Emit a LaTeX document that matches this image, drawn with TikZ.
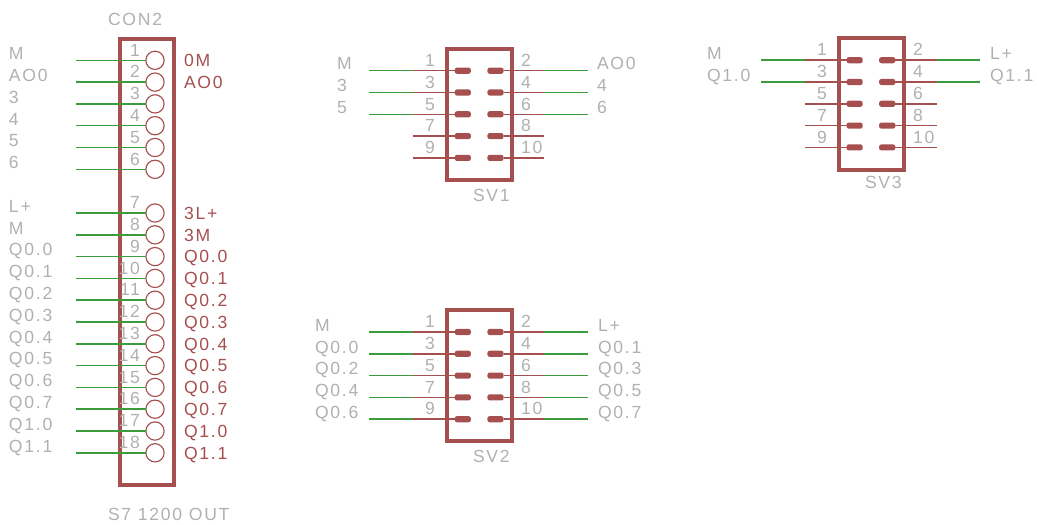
\documentclass[tikz,border=0pt]{standalone}
\usepackage{fontspec}
\setmainfont[LetterSpace=10]{Liberation Sans}
\usepackage{tkz-berge}
\definecolor{netred}{HTML}{A54F4F}
\definecolor{netgreen}{HTML}{3C9C3C}
\definecolor{netgrey}{HTML}{B0B0B0}
\tikzset{
	PinText/.style = {shape=rectangle,draw=none,fill=none,inner sep=0pt,outer sep=0pt,text=netgrey,font=\fontsize{10}{12}\selectfont},
	NameLeft/.style = {PinText,anchor=base west,yshift=0.4pt},
	NameRed/.style = {PinText,text=netred,anchor=base west,yshift=-3.6pt},
	NumLeft/.style = {PinText,anchor=base east,yshift=2.4pt},
	NumRight/.style = {PinText,anchor=base west,yshift=2.4pt},
	WireEnd/.style = {shape=coordinate},
	PartBox/.style = {shape=rectangle,draw=netred,fill=none,line width=2.3pt,inner sep=0pt},
	Socket/.style = {shape=circle,draw=netred,fill=none,line width=0.65pt,minimum size=10.4pt,inner sep=0pt},
	Pad/.style = {shape=rectangle,draw=none,fill=netred,rounded corners=1.3pt,minimum width=9.2pt,minimum height=3.5pt,inner sep=0pt},
	RedWire/.style = {draw=netred,line width=0.85pt},
	GreenWire/.style = {draw=netgreen,line width=0.85pt}
}
\begin{document}
\begin{tikzpicture}[x=0.02cm,y=-0.02cm]
	\useasboundingbox (0,0) rectangle (1037,524);
	\GraphInit[vstyle=Normal]
	% part outlines
	{
		\tikzset{VertexStyle/.style = {PartBox,minimum width=1.3cm,minimum height=2.626cm}}
		\Vertex[x=479.5,y=114.3,NoLabel]{SV1}
		\Vertex[x=479.5,y=375.5,NoLabel]{SV2}
		\Vertex[x=871.2,y=103.9,NoLabel]{SV3}
		\tikzset{VertexStyle/.style = {PartBox,minimum width=1.08cm,minimum height=8.92cm}}
		\Vertex[x=147,y=262,NoLabel]{CON2}
		\tikzset{VertexStyle/.style = {PinText,anchor=base west}}
		\Vertex[x=108,y=25,L={CON2}]{CON2name}
		\Vertex[x=108,y=520,L={S7 1200 OUT}]{CON2value}
		\Vertex[x=473,y=201,L={SV1}]{SV1name}
		\Vertex[x=473,y=462,L={SV2}]{SV2name}
		\Vertex[x=865,y=188,L={SV3}]{SV3name}
	}
	% CON2
	\foreach \n/\y/\lname in {1/60.3/M,2/82.1/AO0,3/103.9/3,4/125.7/4,5/147.5/5,6/169.3/6,
		7/213/L+,8/234.8/M,9/256.6/Q0.0,10/278.4/Q0.1,11/300.2/Q0.2,12/322/Q0.3,
		13/343.8/Q0.4,14/365.6/Q0.5,15/387.4/Q0.6,16/409.2/Q0.7,17/431/Q1.0,18/452.8/Q1.1}{
		\tikzset{VertexStyle/.style = {WireEnd}}
		\Vertex[x=76,y=\y,NoLabel]{CONend\n}
		\tikzset{VertexStyle/.style = {Socket}}
		\Vertex[x=155,y=\y,NoLabel]{CONpin\n}
		\tikzset{VertexStyle/.style = {NameLeft}}
		\Vertex[x=9,y=\y,L={\lname}]{CONleft\n}
		\tikzset{VertexStyle/.style = {NumLeft}}
		\Vertex[x=140,y=\y,L={\n}]{CONnum\n}
		\tikzstyle{EdgeStyle}=[GreenWire]
		\Edge[](CONend\n)(CONpin\n)
	}
	\foreach \n/\y/\rname in {1/60.3/0M,2/82.1/AO0,7/213/3L+,8/234.8/3M,9/256.6/Q0.0,10/278.4/Q0.1,11/300.2/Q0.2,
		12/322/Q0.3,13/343.8/Q0.4,14/365.6/Q0.5,15/387.4/Q0.6,16/409.2/Q0.7,17/431/Q1.0,18/452.8/Q1.1}{
		\tikzset{VertexStyle/.style = {NameRed}}
		\Vertex[x=184,y=\y,L={\rname}]{CONright\n}
	}
	% SV1
	\foreach \l/\r/\y in {1/2/70.7,3/4/92.5,5/6/114.3,7/8/136.1,9/10/157.9}{
		\tikzset{VertexStyle/.style = {WireEnd}}
		\Vertex[x=412.7,y=\y,NoLabel]{SVa\l}
		\Vertex[x=544.3,y=\y,NoLabel]{SVa\r}
		\tikzset{VertexStyle/.style = {Pad}}
		\Vertex[x=462.8,y=\y,NoLabel]{SVp\l}
		\Vertex[x=495.5,y=\y,NoLabel]{SVp\r}
		\tikzset{VertexStyle/.style = {NumLeft}}
		\Vertex[x=435,y=\y,L={\l}]{SVn\l}
		\tikzset{VertexStyle/.style = {NumRight}}
		\Vertex[x=521,y=\y,L={\r}]{SVn\r}
		\tikzstyle{EdgeStyle}=[RedWire]
		\Edge[](SVa\l)(SVp\l)
		\Edge[](SVp\r)(SVa\r)
	}
	\foreach \l/\r/\y/\lname/\rname in {1/2/70.7/M/AO0,3/4/92.5/3/4,5/6/114.3/5/6}{
		\tikzset{VertexStyle/.style = {WireEnd}}
		\Vertex[x=369.3,y=\y,NoLabel]{SVg\l}
		\Vertex[x=588.3,y=\y,NoLabel]{SVg\r}
		\tikzset{VertexStyle/.style = {NameLeft}}
		\Vertex[x=337,y=\y,L={\lname}]{SVt\l}
		\Vertex[x=597,y=\y,L={\rname}]{SVt\r}
		\tikzstyle{EdgeStyle}=[GreenWire]
		\Edge[](SVg\l)(SVa\l)
		\Edge[](SVa\r)(SVg\r)
	}
	% SV2
	\foreach \l/\r/\y/\lname/\rname in {1/2/332/M/L+,3/4/353.8/Q0.0/Q0.1,5/6/375.6/Q0.2/Q0.3,7/8/397.4/Q0.4/Q0.5,9/10/419.2/Q0.6/Q0.7}{
		\tikzset{VertexStyle/.style = {WireEnd}}
		\Vertex[x=413,y=\y,NoLabel]{SWa\l}
		\Vertex[x=544.3,y=\y,NoLabel]{SWa\r}
		\Vertex[x=369,y=\y,NoLabel]{SWg\l}
		\Vertex[x=588.3,y=\y,NoLabel]{SWg\r}
		\tikzset{VertexStyle/.style = {Pad}}
		\Vertex[x=462.8,y=\y,NoLabel]{SWp\l}
		\Vertex[x=495.5,y=\y,NoLabel]{SWp\r}
		\tikzset{VertexStyle/.style = {NumLeft}}
		\Vertex[x=435,y=\y,L={\l}]{SWn\l}
		\tikzset{VertexStyle/.style = {NumRight}}
		\Vertex[x=521,y=\y,L={\r}]{SWn\r}
		\tikzset{VertexStyle/.style = {NameLeft}}
		\Vertex[x=315,y=\y,L={\lname}]{SWt\l}
		\Vertex[x=598,y=\y,L={\rname}]{SWt\r}
		\tikzstyle{EdgeStyle}=[RedWire]
		\Edge[](SWa\l)(SWp\l)
		\Edge[](SWp\r)(SWa\r)
		\tikzstyle{EdgeStyle}=[GreenWire]
		\Edge[](SWg\l)(SWa\l)
		\Edge[](SWa\r)(SWg\r)
	}
	% SV3
	\foreach \l/\r/\y in {1/2/60.2,3/4/82,5/6/103.8,7/8/125.6,9/10/147.4}{
		\tikzset{VertexStyle/.style = {WireEnd}}
		\Vertex[x=805,y=\y,NoLabel]{STa\l}
		\Vertex[x=936.5,y=\y,NoLabel]{STa\r}
		\tikzset{VertexStyle/.style = {Pad}}
		\Vertex[x=854.6,y=\y,NoLabel]{STp\l}
		\Vertex[x=887.2,y=\y,NoLabel]{STp\r}
		\tikzset{VertexStyle/.style = {NumLeft}}
		\Vertex[x=827,y=\y,L={\l}]{STn\l}
		\tikzset{VertexStyle/.style = {NumRight}}
		\Vertex[x=913,y=\y,L={\r}]{STn\r}
		\tikzstyle{EdgeStyle}=[RedWire]
		\Edge[](STa\l)(STp\l)
		\Edge[](STp\r)(STa\r)
	}
	\foreach \l/\r/\y/\lname/\rname in {1/2/60.2/M/L+,3/4/82/Q1.0/Q1.1}{
		\tikzset{VertexStyle/.style = {WireEnd}}
		\Vertex[x=761.3,y=\y,NoLabel]{STg\l}
		\Vertex[x=980,y=\y,NoLabel]{STg\r}
		\tikzset{VertexStyle/.style = {NameLeft}}
		\Vertex[x=707,y=\y,L={\lname}]{STt\l}
		\Vertex[x=990,y=\y,L={\rname}]{STt\r}
		\tikzstyle{EdgeStyle}=[GreenWire]
		\Edge[](STg\l)(STa\l)
		\Edge[](STa\r)(STg\r)
	}
\end{tikzpicture}
\end{document}
